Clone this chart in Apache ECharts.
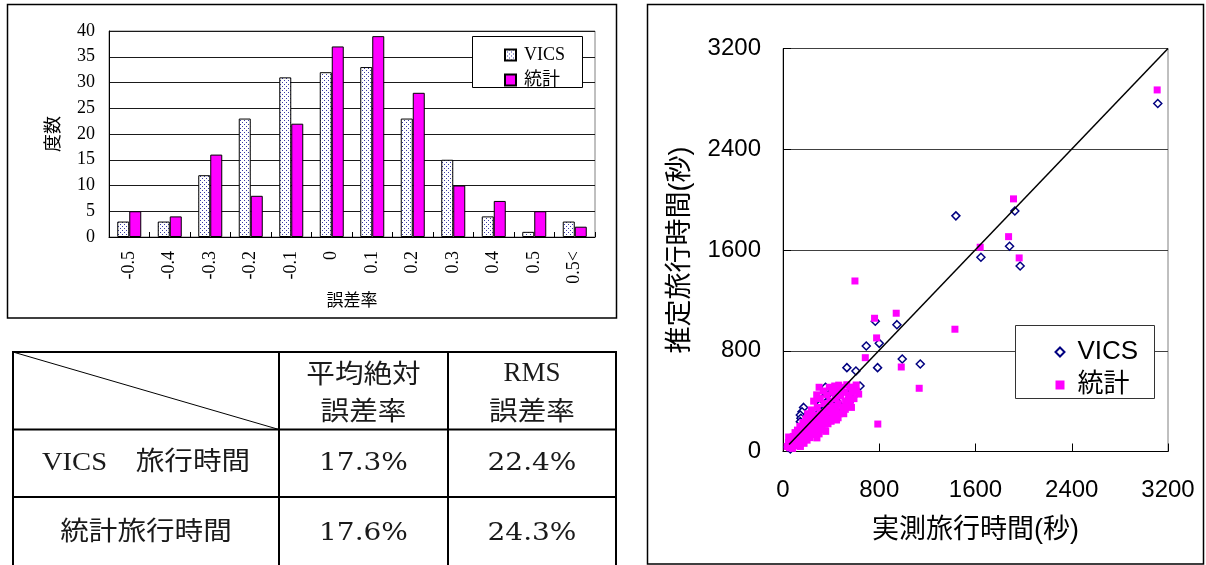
<!DOCTYPE html>
<html>
<head>
<meta charset="utf-8">
<script src="https://cdn.jsdelivr.net/npm/echarts@6/dist/echarts.min.js"></script>
<style>
  html, body { margin: 0; padding: 0; background: #fff; }
  #chart { width: 1206px; height: 565px; }
</style>
</head>
<body>
<div id="chart"></div>
<script>
// ---- Error-rate histogram ----
const errorBins = ['-0.5', '-0.4', '-0.3', '-0.2', '-0.1', '0', '0.1', '0.2', '0.3', '0.4', '0.5', '0.5<'];
const vicsCounts = [3, 3, 12, 23, 31, 32, 33, 23, 15, 4, 1, 3];
const statCounts = [5, 4, 16, 8, 22, 37, 39, 28, 10, 7, 5, 2];

// ---- Measured vs estimated travel time (seconds): [measured, estimated] ----
const vicsTimes = [
  [3115, 2763], [1927, 1910], [1437, 1871], [1883, 1630], [1645, 1542], [1971, 1473],
  [947, 1007], [767, 1034], [800, 859], [692, 838], [991, 735], [1141, 695], [786, 666],
  [531, 666], [606, 639], [640, 520], [353, 510], [578, 430], [586, 449], [567, 409],
  [482, 356], [449, 308], [393, 276], [310, 224], [221, 176], [240, 157], [171, 350],
  [158, 316], [144, 290], [149, 264], [144, 237], [61, 20],
  [40, 35], [50, 60], [75, 80], [90, 110], [100, 70], [110, 130], [120, 95], [130, 160],
  [140, 110], [155, 145], [165, 190], [180, 130], [190, 220], [200, 170], [210, 250],
  [225, 195], [235, 140], [245, 280], [255, 220], [270, 320], [275, 190], [290, 300],
  [300, 240], [305, 370], [320, 280], [330, 420], [340, 330], [360, 390], [365, 300],
  [380, 450], [385, 350], [405, 420], [420, 330], [425, 480], [445, 400], [460, 450],
  [475, 360], [495, 470], [515, 430], [535, 500], [550, 420], [570, 480], [600, 460]
];
const statTimes = [
  [3110, 2871], [1916, 2006], [1875, 1706], [1639, 1622], [1963, 1537], [598, 1354],
  [941, 1098], [761, 1058], [1429, 971], [778, 902], [684, 745], [983, 671], [1132, 502],
  [788, 218], [608, 528], [629, 456], [569, 350], [518, 335], [458, 268], [374, 220],
  [282, 108], [300, 510], [463, 527], [47, 115],
  [35, 40], [45, 70], [55, 30], [65, 95], [70, 55], [80, 25], [85, 120],
  [95, 75], [100, 150], [105, 45], [115, 110], [120, 170], [125, 70], [135, 135], [140, 200],
  [145, 40], [150, 95], [160, 165], [165, 230], [170, 120], [175, 65], [185, 190], [190, 260],
  [195, 140], [200, 90], [205, 300], [215, 215], [220, 160], [225, 110], [235, 330], [240, 250],
  [245, 185], [250, 135], [255, 400], [260, 290], [265, 220], [270, 160], [280, 450], [285, 350],
  [290, 265], [295, 200], [300, 140], [310, 420], [315, 310], [320, 240], [325, 175], [335, 480],
  [340, 380], [345, 290], [350, 215], [355, 160], [365, 450], [370, 340], [375, 260], [385, 510],
  [390, 400], [395, 310], [400, 240], [410, 470], [415, 360], [420, 280], [430, 520], [435, 420],
  [440, 330], [445, 250], [455, 480], [460, 380], [470, 300], [480, 440], [490, 510], [495, 350],
  [505, 300], [510, 470], [520, 400], [530, 530], [540, 360], [545, 450], [555, 510], [560, 400],
  [575, 470], [590, 420], [595, 510], [610, 480]
];
const equalityLine = [[50, 55], [3200, 3200]];

// ---- Summary table ----
const tableHeads = [['平均絶対', '誤差率'], ['RMS', '誤差率']];
const tableRows = ['VICS　旅行時間', '統計旅行時間'];
const meanAbsError = ['17.3%', '17.6%'];
const rmsError = ['22.4%', '24.3%'];

const legendNames = { 'VICS旅行時間': 'VICS', '統計旅行時間': '統計' };

const SERIF = "'Liberation Serif', 'Noto Sans CJK JP', serif";
const GOTHIC = "'Noto Sans CJK JP', sans-serif";
const SANS = "'Liberation Sans', 'Noto Sans CJK JP', sans-serif";

// dotted fill used for the VICS bars
function dotFill() {
  const c = document.createElement('canvas');
  c.width = 4; c.height = 4;
  const g = c.getContext('2d');
  g.fillStyle = '#ffffff';
  g.fillRect(0, 0, 4, 4);
  g.fillStyle = '#3a3aa6';
  g.fillRect(0, 0, 1, 1);
  g.fillRect(2, 2, 1, 1);
  return c;
}

// table layout
const colX = [13, 279, 448, 616];
const rowY = [352, 429.5, 497, 566];
const tableGraphics = [];
function hline(y) { tableGraphics.push({ type: 'line', shape: { x1: colX[0] - 1, y1: y, x2: colX[3] + 1, y2: y }, style: { stroke: '#000', lineWidth: 2 } }); }
function vline(x) { tableGraphics.push({ type: 'line', shape: { x1: x, y1: rowY[0], x2: x, y2: rowY[3] }, style: { stroke: '#000', lineWidth: 2 } }); }
rowY.forEach(hline);
colX.forEach(vline);
tableGraphics.push({ type: 'line', shape: { x1: colX[0], y1: rowY[0], x2: colX[1], y2: rowY[1] }, style: { stroke: '#000', lineWidth: 1 } });
function cellText(text, cx, cy, family, size, sx) {
  tableGraphics.push({
    type: 'text', x: cx, y: cy, scaleX: sx, z: 10,
    style: { text: text, fontFamily: family, fontSize: size, fill: '#1a1a1a', align: 'center', verticalAlign: 'middle' }
  });
}
tableHeads.forEach((lines, i) => {
  const cx = (colX[i + 1] + colX[i + 2]) / 2;
  const isLatin = /^[A-Z]+$/.test(lines[0]);
  cellText(lines[0], cx, 373.5, isLatin ? SERIF : GOTHIC, isLatin ? 27 : 26, isLatin ? 1 : 1.1);
  cellText(lines[1], cx, 410.5, GOTHIC, 26, 1.1);
});
const rowCenters = [463, 533];
tableRows.forEach((label, r) => {
  cellText(label, (colX[0] + colX[1]) / 2, rowCenters[r], SERIF, 26, 1.1);
  cellText(meanAbsError[r], (colX[1] + colX[2]) / 2, rowCenters[r], "'DejaVu Serif', serif", 25, 1.12);
  cellText(rmsError[r], (colX[2] + colX[3]) / 2, rowCenters[r], "'DejaVu Serif', serif", 25, 1.12);
});

const plainNumber = v => String(v);

const chart = echarts.init(document.getElementById('chart'), null, { renderer: 'canvas' });

const option = {
  animation: false,
  backgroundColor: '#fff',
  grid: [
    { left: 109, top: 31, width: 486, height: 206, show: true, borderColor: '#808080', borderWidth: 1, backgroundColor: 'transparent', containLabel: false, outerBoundsMode: 'none' },
    { left: 783, top: 48.5, width: 385, height: 403, show: true, borderColor: '#808080', borderWidth: 1, backgroundColor: 'transparent', containLabel: false, outerBoundsMode: 'none' }
  ],
  xAxis: [
    {
      gridIndex: 0, type: 'category', data: errorBins,
      name: '誤差率', nameLocation: 'middle', nameGap: 56,
      nameTextStyle: { fontFamily: SERIF, fontSize: 17, color: '#000' },
      axisLine: { show: true, lineStyle: { color: '#000', width: 1 } },
      axisTick: { show: true, inside: true, length: 5, lineStyle: { color: '#000' } },
      axisLabel: { interval: 0, rotate: 90, margin: 14, fontFamily: SERIF, fontSize: 18, color: '#000' },
      splitLine: { show: false }
    },
    {
      gridIndex: 1, type: 'value', min: 0, max: 3200, interval: 800,
      name: '実測旅行時間(秒)', nameLocation: 'middle', nameGap: 66,
      nameTextStyle: { fontFamily: SANS, fontSize: 27, color: '#000' },
      axisLine: { show: true, onZero: false, lineStyle: { color: '#000', width: 1 } },
      axisTick: { show: true, inside: true, length: 8, lineStyle: { color: '#000' } },
      axisLabel: { margin: 27, fontFamily: SANS, fontSize: 24, color: '#000', formatter: plainNumber },
      splitLine: { show: false }
    }
  ],
  yAxis: [
    {
      gridIndex: 0, type: 'value', min: 0, max: 40, interval: 5,
      name: '度数', nameLocation: 'middle', nameGap: 46, nameRotate: 90,
      nameTextStyle: { fontFamily: SERIF, fontSize: 18, color: '#000' },
      axisLine: { show: true, lineStyle: { color: '#000', width: 1 } },
      axisTick: { show: false },
      axisLabel: { margin: 14, fontFamily: SERIF, fontSize: 18, color: '#000' },
      splitLine: { show: true, lineStyle: { color: '#1a1a1a', width: 1 } }
    },
    {
      gridIndex: 1, type: 'value', min: 0, max: 3200, interval: 800,
      name: '推定旅行時間(秒)', nameLocation: 'middle', nameGap: 89, nameRotate: 90,
      nameTextStyle: { fontFamily: SANS, fontSize: 27, color: '#000' },
      axisLine: { show: true, onZero: false, lineStyle: { color: '#000', width: 1 } },
      axisTick: { show: true, inside: true, length: 8, lineStyle: { color: '#000' } },
      axisLabel: { margin: 22, fontFamily: SANS, fontSize: 24, color: '#000', formatter: plainNumber },
      splitLine: { show: true, lineStyle: { color: '#404040', width: 1 } }
    }
  ],
  legend: [
    {
      orient: 'vertical', left: 499, top: 41, itemWidth: 11, itemHeight: 11, itemGap: 7,
      data: ['VICS', '統計'], icon: 'rect', selectedMode: false, z: 6,
      textStyle: { fontFamily: SERIF, fontSize: 18, lineHeight: 18, color: '#000', padding: [0, 0, 0, 3] }
    },
    {
      orient: 'vertical', left: 1049.5, top: 334, itemWidth: 9, itemHeight: 9, itemGap: 7,
      data: ['VICS旅行時間', '統計旅行時間'], selectedMode: false, z: 6,
      formatter: name => legendNames[name],
      textStyle: { fontFamily: SANS, fontSize: 26, lineHeight: 26, color: '#000', padding: [0, 0, 0, 8] }
    }
  ],
  series: [
    {
      name: 'VICS', type: 'bar', xAxisIndex: 0, yAxisIndex: 0, data: vicsCounts,
      barWidth: 12, barGap: '0%',
      itemStyle: { color: { image: dotFill(), repeat: 'repeat' }, borderColor: '#000', borderWidth: 1 }
    },
    {
      name: '統計', type: 'bar', xAxisIndex: 0, yAxisIndex: 0, data: statCounts,
      barWidth: 12, barGap: '0%',
      itemStyle: { color: '#ff00ff', borderColor: '#000', borderWidth: 1 }
    },
    {
      name: 'VICS旅行時間', type: 'scatter', xAxisIndex: 1, yAxisIndex: 1, data: vicsTimes,
      symbol: 'diamond', symbolSize: 8,
      itemStyle: { color: '#ffffff', borderColor: '#000080', borderWidth: 1.5, opacity: 1 }
    },
    {
      name: '統計旅行時間', type: 'scatter', xAxisIndex: 1, yAxisIndex: 1, data: statTimes,
      symbol: 'rect', symbolSize: 7,
      itemStyle: { color: '#ff00ff', opacity: 1 }
    },
    {
      name: 'y=x', type: 'line', xAxisIndex: 1, yAxisIndex: 1, data: equalityLine,
      symbol: 'none', silent: true, z: 5,
      lineStyle: { color: '#000', width: 1.5 }
    }
  ],
  graphic: [
    // panel frames
    { type: 'rect', shape: { x: 7.5, y: 4.5, width: 609, height: 313.5 }, style: { fill: 'none', stroke: '#000', lineWidth: 1.5 } },
    { type: 'rect', shape: { x: 647.5, y: 4.5, width: 556, height: 559.5 }, style: { fill: 'none', stroke: '#000', lineWidth: 1.5 } },
    // legend boxes
    { type: 'rect', z: 3, shape: { x: 472.5, y: 36.5, width: 110, height: 51 }, style: { fill: '#fff', stroke: '#000', lineWidth: 1 } },
    { type: 'rect', z: 3, shape: { x: 1015.5, y: 325.5, width: 139, height: 73 }, style: { fill: '#fff', stroke: '#333', lineWidth: 1 } }
  ].concat(tableGraphics)
};

chart.setOption(option);
</script>
</body>
</html>
